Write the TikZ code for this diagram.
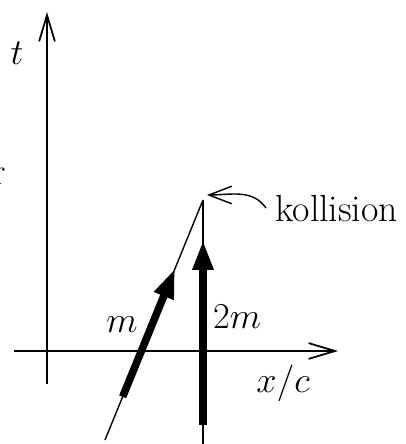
\documentclass[tikz,border=0pt]{standalone}
\usepackage{amsmath,amssymb}
\usepackage{tikz}
\usetikzlibrary{arrows.meta,calc}

\begin{document}
\begin{tikzpicture}[
    x=0.02cm, y=-0.02cm,
    axis/.style={line width=1pt, -{Straight Barb[length=15pt,width=9pt]}},
    world/.style={line width=0.8pt},
    heavy/.style={line width=4.3pt, -{Triangle[length=17pt,width=11pt]}},
    hint/.style={line width=0.8pt, -{Straight Barb[length=13pt,width=10pt]}},
    lbl/.style={font=\fontsize{21.5}{25}\selectfont, inner sep=0pt}
]
    \useasboundingbox (0,0) rectangle (406,444);

    % axes
    \coordinate (tlow) at (47,384);
    \coordinate (ttop) at (47,12);
    \coordinate (xleft) at (14,351);
    \coordinate (xright) at (338,351);
    \draw[axis] (tlow) -- (ttop);
    \draw[axis] (xleft) -- (xright);

    % world lines
    \coordinate (hit) at (203,200);
    \coordinate (mlow) at (105,440);
    \coordinate (mtail) at ($(mlow)!0.18!(hit)$);
    \coordinate (mtip) at ($(mlow)!0.715!(hit)$);
    \coordinate (wlow) at (203,444);
    \coordinate (wtail) at (203,425);
    \coordinate (wtip) at (203,240);

    \draw[world] (mlow) -- (hit);
    \draw[heavy] (mtail) -- (mtip);
    \draw[world] (wlow) -- (hit);
    \draw[heavy] (wtail) -- (wtip);

    % labels
    \node[lbl] (tlab) at (17,53) {$t$};
    \node[lbl] (mlab) at (122,325) {$m$};
    \node[lbl] (wlab) at (237,317) {$2m$};
    \node[lbl] (xlab) at (283,383) {$x/c$};
    \node[lbl, anchor=west] (kol) at (275,209) {kollision};
    \node[lbl, anchor=base east] (cut) at (6,184) {r};

    \draw[hint] ($(kol.west)+(-9,-1)$) to[out=125,in=0] ($(hit)+(4,-5)$);
\end{tikzpicture}
\end{document}
